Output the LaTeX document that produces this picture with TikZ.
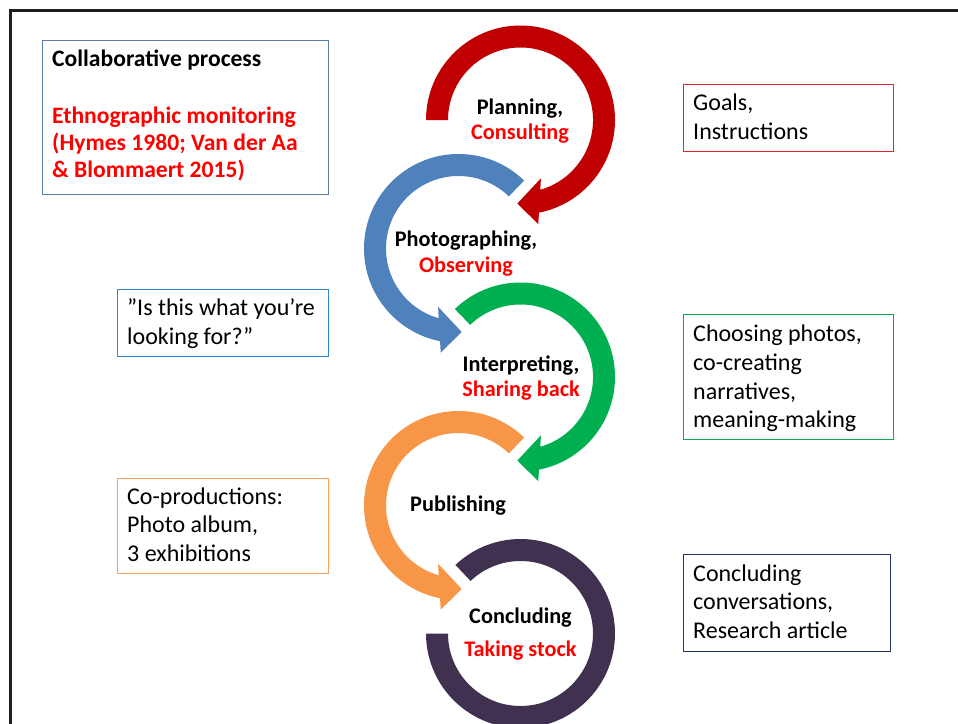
\documentclass[tikz,border=0pt]{standalone}
\usepackage{fontspec}
\setmainfont{Carlito}
\definecolor{arRed}{HTML}{C00000}
\definecolor{arBlue}{HTML}{4F81BD}
\definecolor{arGreen}{HTML}{00B050}
\definecolor{arOrange}{HTML}{F79646}
\definecolor{arPurple}{HTML}{403151}
\definecolor{txtRed}{HTML}{FF0000}
\definecolor{bxGray}{HTML}{5A7BA3}
\definecolor{bxRed}{HTML}{E8232A}
\definecolor{bxBlue}{HTML}{2E86D0}
\definecolor{bxGreen}{HTML}{00B050}
\definecolor{bxOrange}{HTML}{F6A05A}
\definecolor{bxNavy}{HTML}{22356B}
\newcommand\cwarrow[2]{%
  \fill[#1] (#2:94.5) arc[start angle=#2, end angle=438.74, radius=94.5]
    -- (440.3:105.6) -- (452.2:83.6) -- (430.7:61.8) -- (434.18:72.5)
    arc[start angle=434.18, end angle=#2, radius=72.5] -- cycle;}
\tikzset{
  infobox/.style={draw, line width=1.1pt, inner sep=0pt, anchor=north west},
  rtext/.style={anchor=base west, inner sep=0pt, align=left, text=black,
    font=\fontsize{24}{28.7}\selectfont},
  btext/.style={anchor=base west, inner sep=0pt, align=left, text=black,
    font=\bfseries\fontsize{23.6}{27}\selectfont},
  ctext/.style={anchor=base, inner sep=0pt, align=center, text=black,
    font=\bfseries\fontsize{22.3}{25.5}\selectfont}
}
\begin{document}
\begin{tikzpicture}[x=1pt,y=-1pt]
\path[use as bounding box] (0,0) rectangle (958,723);
\clip (0,0) rectangle (958,723);
\fill[white] (0,0) rectangle (958,723);
\draw[line width=2.7pt, black!88] (10.3,730) -- (10.3,10.3) -- (965,10.3);

% circular arrows
\begin{scope}[shift={(520.5,120)}] \cwarrow{arRed}{180} \end{scope}
\begin{scope}[shift={(458.5,248.5)}, xscale=-1] \cwarrow{arBlue}{226} \end{scope}
\begin{scope}[shift={(520.5,377)}] \cwarrow{arGreen}{226} \end{scope}
\begin{scope}[shift={(458.5,505.5)}, xscale=-1] \cwarrow{arOrange}{226} \end{scope}
\begin{scope}[shift={(520.5,633.5)}]
  \fill[arPurple] (226.5:94.5) arc[start angle=226.5, end angle=540, radius=94.5]
    -- (540:72.5) arc[start angle=540, end angle=226.5, radius=72.5] -- cycle;
\end{scope}

% centre labels (positioned at the baseline of their last line)
\node[ctext] (plan) at (520,139.5) {Planning,\\\textcolor{txtRed}{Consulting}};
\node[ctext] (photo) at (466,272.3) {Photographing,\\\textcolor{txtRed}{Observing}};
\node[ctext] (interp) at (521,396.8) {Interpreting,\\\textcolor{txtRed}{Sharing back}};
\node[ctext] (publ) at (458,511.7) {Publishing};
\node[ctext] (concl) at (520.5,656.6) {Concluding\\[8pt]\textcolor{txtRed}{Taking stock}};

% side boxes
\node[infobox, draw=bxGray, minimum width=286, minimum height=154] (collab) at (42,40) {};
\node[btext] (collabT) at (52,177) {Collaborative process\\[30pt]\textcolor{txtRed}{Ethnographic monitoring}\\\textcolor{txtRed}{(Hymes 1980; Van der Aa}\\\textcolor{txtRed}{\& Blommaert 2015)}};

\node[infobox, draw=bxRed, minimum width=210, minimum height=67] (goals) at (683,84) {};
\node[rtext] (goalsT) at (693,139.2) {Goals,\\Instructions};

\node[infobox, draw=bxBlue, minimum width=211, minimum height=67] (isthis) at (117,289) {};
\node[rtext] (isthisT) at (127,344) {”Is this what you’re\\looking for?”};

\node[infobox, draw=bxGreen, minimum width=210, minimum height=125] (choose) at (683,314) {};
\node[rtext] (chooseT) at (693,427.8) {Choosing photos,\\co-creating\\narratives,\\meaning-making};

\node[infobox, draw=bxOrange, minimum width=211, minimum height=95] (coprod) at (117,478) {};
\node[rtext] (coprodT) at (127,561.5) {Co-productions:\\Photo album,\\3 exhibitions};

\node[infobox, draw=bxNavy, minimum width=207, minimum height=97] (conclbox) at (683,554) {};
\node[rtext] (conclT) at (693,638.4) {Concluding\\conversations,\\Research article};
\end{tikzpicture}
\end{document}
